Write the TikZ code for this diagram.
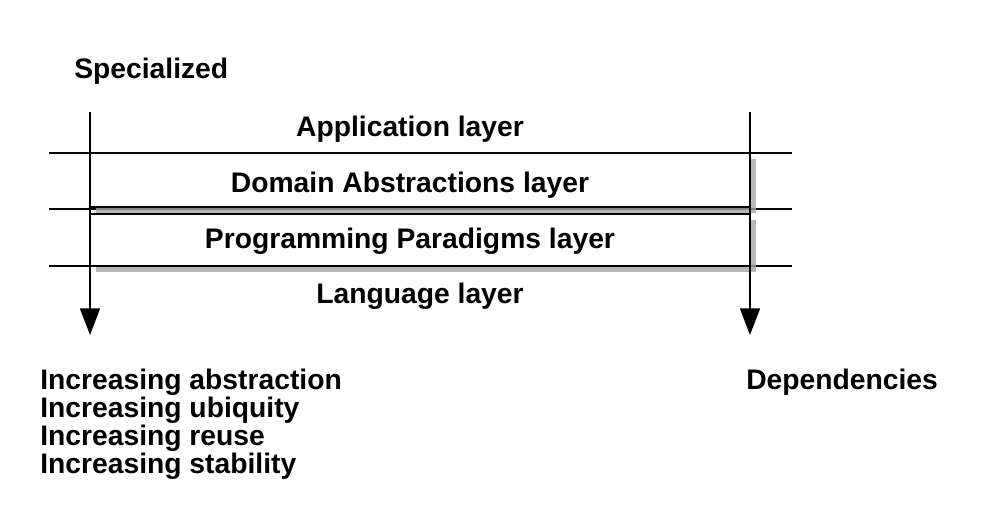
\documentclass[tikz,border=0pt]{standalone}
\usepackage{fontspec}
\setmainfont{Liberation Sans}
\usetikzlibrary{positioning,arrows.meta,shadows}
\newcommand{\lyfont}{\bfseries\fontsize{21.2}{21}\selectfont}
\definecolor{lyInk}{RGB}{0,0,0}
\definecolor{lyShade}{RGB}{165,165,165}
\tikzset{
  lyRule/.style={draw=lyInk, line width=1.1pt},
  lyBox/.style={draw=lyInk, fill=white, line width=1.5pt,
    minimum width=495pt, inner sep=0pt,
    drop shadow={shadow xshift=4.2pt, shadow yshift=-4.2pt,
      fill=lyShade, opacity=.8}},
  lyFlow/.style={-{Triangle[length=20pt,width=15pt]}, line width=1.3pt,
    draw=lyInk},
  lyLabel/.style={font=\lyfont, text=lyInk, inner sep=0pt}
}
\begin{document}
\begin{tikzpicture}[x=0.75pt,y=-0.75pt]
\useasboundingbox (0,0) rectangle (1000,532);
\draw[lyRule] (49,153) -- (792,153);
\draw[lyRule] (49,209) -- (792,209);
\draw[lyRule] (49,266) -- (792,266);
\node[lyBox,minimum height=40.5pt] (domain) at (420,180) {};
\node[lyBox,minimum height=39pt] (paradigm) at (420,240) {};
\node[lyLabel,anchor=base west] (special) at (74,78) {Specialized};
\node[lyLabel,anchor=base] (app) at (410,136) {Application layer};
\node[lyLabel,anchor=base] (domtxt) at (410,192) {Domain Abstractions layer};
\node[lyLabel,anchor=base] (partxt) at (410,248) {Programming Paradigms layer};
\node[lyLabel,anchor=base] (lang) at (420,303) {Language layer};
\coordinate (spTop) at (90,112);
\coordinate (spEnd) at (90,335);
\coordinate (depTop) at (750,112);
\coordinate (depEnd) at (750,335);
\draw[lyFlow] (spTop) -- (spEnd);
\draw[lyFlow] (depTop) -- (depEnd);
\node[lyLabel,anchor=north west,align=left] (incr) at (40,369)
  {Increasing abstraction\\Increasing ubiquity\\Increasing reuse\\Increasing stability};
\node[lyLabel,anchor=base west] (deps) at (746,389) {Dependencies};
\end{tikzpicture}
\end{document}
